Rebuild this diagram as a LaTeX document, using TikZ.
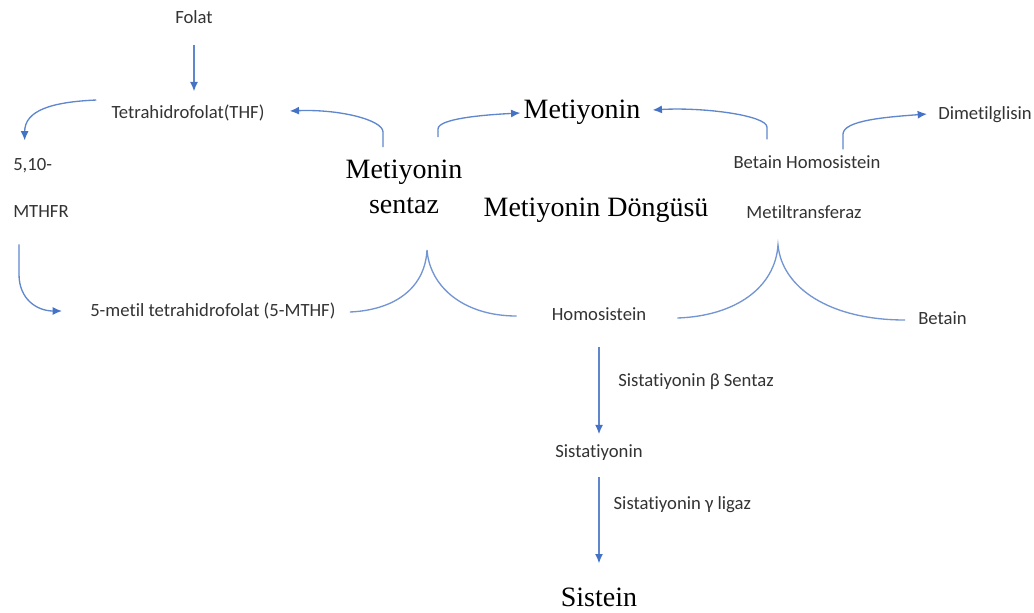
\documentclass[tikz,border=0pt]{standalone}
\usepackage{fontspec}
\setmainfont{Liberation Serif}
\newfontfamily\carlito[Ligatures=NoCommon]{Carlito}
\usetikzlibrary{arrows.meta}
\definecolor{flowblue}{HTML}{4472C4}
\tikzset{
  small/.style={font=\carlito\fontsize{14}{16}\selectfont, text=black!80, inner sep=0pt},
  big/.style={font=\fontsize{21}{26}\selectfont, inner sep=0pt, align=center},
  flow/.style={draw=flowblue!85, line width=1pt, -{Latex[length=7pt,width=6pt,color=flowblue]}},
  brace/.style={draw=flowblue!75, line width=1pt}
}

\begin{document}
\begin{tikzpicture}
  \begin{scope}[x=0.75pt, y=-0.75pt]
    \useasboundingbox (0,0) rectangle (1034,612);
    \node [small] (folat) at (194,17) {Folat};
    \node [small] (thf) at (188,113) {Tetrahidrofolat(THF)};
    \node [small, anchor=west] (mtf) at (13,166) {5,10-};
    \node [small, anchor=west] (mthfr) at (13,212) {MTHFR};
    \node [small, anchor=west] (mthf) at (90,311) {5-metil tetrahidrofolat (5-MTHF)};
    \node [small] (homo) at (599,314) {Homosistein};
    \node [big] (sentaz) at (404,187) {Metiyonin\\sentaz};
    \node [big] (met) at (582,112) {Metiyonin};
    \node [big] (dongu) at (596,210) {Metiyonin Döngüsü};
    \node [small] (bhmt1) at (807,162) {Betain Homosistein};
    \node [small] (bhmt2) at (804,212) {Metiltransferaz};
    \node [small, anchor=west] (dmg) at (938,115) {Dimetilglisin};
    \node [small, anchor=west] (betain) at (918,318) {Betain};
    \node [small] (sist) at (599,453) {Sistatiyonin};
    \node [big] (sistein) at (599,597) {Sistein};
    \coordinate (cuspl) at (427,250);
    \coordinate (cuspr) at (778,245);

    \draw [flow] ([yshift=-16pt]folat.south) -- ([yshift=10pt]folat.south |- thf.north);
    \draw [flow] ([shift={(-15,-13)}]thf.west) .. controls +(-45,2) and +(0,-30) .. ([shift={(-8,-18)}]mtf.north);
    \draw [flow] ([shift={(6,26)}]mthfr.south west) -- ++(0,30) .. controls +(0,25) and +(-25,0) .. ([shift={(-28,0)}]mthf.west);
    \draw [flow] ([shift={(-21,-13)}]sentaz.north) -- ++(0,-15) .. controls +(0,-12) and +(50,-2) .. ([shift={(25,-2)}]thf.east);
    \draw [flow] ([shift={(34,-23)}]sentaz.north) -- ++(0,-8) .. controls +(0,-10) and +(-40,2) .. ([shift={(-3,1)}]met.west);
    \draw [flow] ([shift={(-40,-16)}]bhmt1.north) -- ++(0,-12) .. controls +(0,-12) and +(50,-3) .. ([shift={(12,-2)}]met.east);
    \draw [flow] ([shift={(36,-6)}]bhmt1.north) -- ++(0,-15) .. controls +(0,-14) and +(-40,3) .. ([shift={(-11,-1)}]dmg.west);
    \draw [brace] ([shift={(14,1)}]mthf.east) .. controls (395,310) and (425,288) .. (cuspl) .. controls (430,288) and (465,316) .. ([shift={(-35,2)}]homo.west);
    \draw [brace] ([shift={(31,4)}]homo.east) .. controls (735,316) and (775,288) .. (cuspr) .. controls (782,288) and (830,320) .. ([shift={(-13,2)}]betain.west);
    \draw [flow] ([yshift=-20pt]homo.south) -- node [small, pos=0.4, right=14pt] {Sistatiyonin β Sentaz} ([yshift=8pt]homo.south |- sist.north);
    \draw [flow] ([yshift=-12pt]sist.south) -- node [small, pos=0.32, right=10.5pt] {Sistatiyonin γ ligaz} ([yshift=18pt]sist.south |- sistein.north);
  \end{scope}
\end{tikzpicture}
\end{document}
